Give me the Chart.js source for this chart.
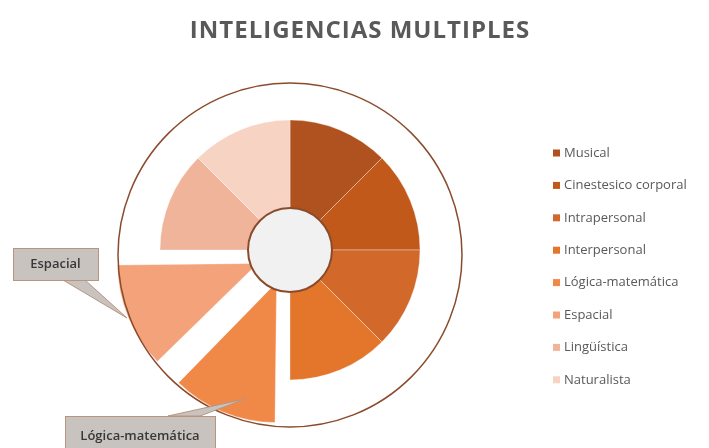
<!DOCTYPE html>
<html>
<head>
<meta charset="utf-8">
<script src="https://cdn.jsdelivr.net/npm/chart.js@4.4.0/dist/chart.umd.min.js"></script>
<style>
  html, body { margin: 0; padding: 0; background: #fff; }
  #wrap { width: 709px; height: 448px; position: relative; }
</style>
</head>
<body>
<div id="wrap"><canvas id="inteligencias"></canvas></div>
<script>
  // Datos
  const categorias = ['Musical', 'Cinestesico corporal', 'Intrapersonal', 'Interpersonal', 'Lógica-matemática', 'Espacial', 'Lingüística', 'Naturalista'];
  const valores = [1, 1, 1, 1, 1, 1, 1, 1];
  const destacadas = ['Lógica-matemática', 'Espacial'];

  const colores = ['#b0521f', '#c0591a', '#d2692b', '#e4762b', '#f08848', '#f3a27a', '#f0b49a', '#f7d3c3'];
  const grisTexto = '#595959';
  const marron = '#8a4b2c';

  // Titulo, leyenda, circulos y etiquetas
  const decoracion = {
    id: 'decoracion',
    afterDatasetsDraw(chart) {
      const ctx = chart.ctx;
      const arco = chart.getDatasetMeta(0).data[0];
      const cx = arco.x, cy = arco.y;

      ctx.save();

      // circulo exterior
      ctx.beginPath();
      ctx.arc(cx, cy + 5, 172, 0, Math.PI * 2);
      ctx.strokeStyle = marron;
      ctx.lineWidth = 1.5;
      ctx.stroke();

      // circulo central
      ctx.beginPath();
      ctx.arc(cx, cy, 42, 0, Math.PI * 2);
      ctx.fillStyle = '#f1f1f1';
      ctx.fill();
      ctx.strokeStyle = marron;
      ctx.lineWidth = 2;
      ctx.stroke();

      // etiquetas con flecha
      const etiqueta = (texto, box, base, punta, ty) => {
        ctx.beginPath();
        ctx.moveTo(base[0], base[1]);
        ctx.lineTo(punta[0], punta[1]);
        ctx.lineTo(base[2], base[3]);
        ctx.closePath();
        ctx.fillStyle = '#c9c3bf';
        ctx.fill();
        ctx.strokeStyle = '#b9957d';
        ctx.lineWidth = 1;
        ctx.stroke();
        ctx.fillStyle = '#c9c3bf';
        ctx.fillRect(box[0], box[1], box[2], box[3]);
        ctx.strokeRect(box[0] + 0.5, box[1] + 0.5, box[2], box[3]);
        ctx.fillStyle = '#383838';
        ctx.font = '600 13px "Open Sans"';
        ctx.textAlign = 'center';
        ctx.textBaseline = 'middle';
        ctx.fillText(texto, box[0] + box[2] / 2, ty);
      };
      etiqueta('Espacial', [13, 248, 85, 32], [63, 280, 85, 280], [127, 318], 264);
      etiqueta('Lógica-matemática', [65, 416, 150, 36], [168, 416, 200, 416], [245, 399], 436);

      // titulo
      ctx.font = 'bold 24px "Open Sans"';
      ctx.letterSpacing = '1px';
      ctx.fillStyle = grisTexto;
      ctx.textAlign = 'center';
      ctx.textBaseline = 'middle';
      ctx.fillText('INTELIGENCIAS MULTIPLES', 360, 31);
      ctx.letterSpacing = '0px';

      // leyenda
      const ds = chart.data.datasets[0];
      ctx.font = '13px "Open Sans"';
      ctx.textAlign = 'left';
      chart.data.labels.forEach((lab, i) => {
        const y = 153 + i * 32.4;
        ctx.fillStyle = ds.backgroundColor[i];
        ctx.fillRect(553, y - 3.5, 7, 7);
        ctx.fillStyle = grisTexto;
        ctx.fillText(lab, 564, y);
      });

      ctx.restore();
    }
  };

  const data = {
    labels: categorias,
    datasets: [{
      data: valores,
      backgroundColor: colores,
      borderColor: 'rgba(255,255,255,0.35)',
      borderWidth: 1,
      // chart.js desplaza offset/4 px
      offset: categorias.map(c => destacadas.includes(c) ? 140 : 0),
      hoverOffset: 0
    }]
  };

  const options = {
    responsive: true,
    maintainAspectRatio: false,
    animation: false,
    radius: 130,
    layout: {
      padding: { left: 0, right: 129, top: 52, bottom: 0 }
    },
    plugins: {
      legend: { display: false },
      title: { display: false },
      tooltip: { displayColors: false }
    }
  };

  const ctx = document.getElementById('inteligencias').getContext('2d');
  const graficoInteligencias = new Chart(ctx, {
    type: 'pie',
    data: data,
    options: options,
    plugins: [decoracion]
  });
</script>
</body>
</html>
